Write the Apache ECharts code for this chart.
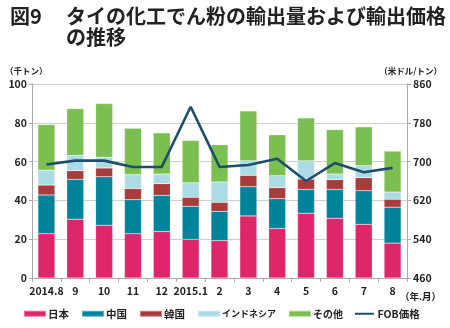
<!DOCTYPE html>
<html>
<head>
<meta charset="utf-8">
<script src="https://cdn.jsdelivr.net/npm/echarts@6/dist/echarts.min.js"></script>
<style>
  html, body { margin: 0; padding: 0; background: #fff; }
  #chart { width: 450px; height: 328px; }
</style>
</head>
<body>
<div id="chart"></div>
<script>
// Months (year.month)
const months = ['2014.8', '9', '10', '11', '12', '2015.1', '2', '3', '4', '5', '6', '7', '8'];

// Export volume by destination (thousand tonnes)
const japan     = [22.8, 30.3, 27.2, 22.8, 24.0, 19.9, 19.3, 32.0, 25.5, 33.4, 30.8, 27.7, 18.0];
const china     = [20.0, 20.6, 25.0, 17.6, 18.6, 17.1, 15.1, 15.1, 15.4, 12.3, 14.9, 17.3, 18.5];
const korea     = [5.1, 4.4, 4.5, 5.7, 6.0, 4.6, 4.6, 5.8, 5.7, 5.3, 5.0, 6.7, 4.1];
const indonesia = [7.7, 7.9, 5.6, 7.2, 5.0, 7.5, 10.5, 7.5, 6.1, 9.4, 2.9, 6.2, 3.7];
const others    = [23.5, 24.1, 27.6, 23.9, 21.2, 21.8, 19.2, 25.7, 21.1, 22.1, 22.9, 20.0, 21.1];

// FOB export price (USD / tonne)
const fobPrice  = [694, 702, 702, 689, 689, 813, 689, 693, 706, 660, 697, 678, 687];

// Axis tick values
const leftTicks  = [0, 20, 40, 60, 80, 100];
const rightTicks = [460, 540, 620, 700, 780, 860];

const FONT = '"Noto Sans CJK JP", "Noto Sans", sans-serif';
const chart = echarts.init(document.getElementById('chart'), null, { renderer: 'canvas' });

function barSeries(name, data, color) {
  return {
    name, type: 'bar', stack: 'vol', data,
    barWidth: 17,
    itemStyle: { color, borderColor: 'rgba(255,255,255,0.35)', borderWidth: 0.5 },
    emphasis: { disabled: true }
  };
}

const titleStyle = { fontSize: 20, fontWeight: 'bold', color: '#222', fontFamily: FONT };
const unitStyle = { fontSize: 8.5, fontWeight: 'bold', color: '#222', fontFamily: FONT };
const legendText = { fontWeight: 'bold', color: '#222', fontFamily: FONT };

// Thin horizontal stroke used as the legend key of the price line
const lineIcon = 'path://M0,0L0.01,0M0,2.3L22,2.3L22,4.7L0,4.7ZM0,7L0.01,7';

chart.setOption({
  animation: false,
  textStyle: { fontFamily: FONT },
  title: [
    { text: '図9', left: 5, top: 1, textStyle: titleStyle },
    { text: 'タイの化工でん粉の輸出量および輸出価格', left: 61, top: 1, textStyle: titleStyle },
    { text: 'の推移', left: 61, top: 22, textStyle: titleStyle },
    { text: '（千トン）', left: 0, top: 62, textStyle: unitStyle },
    { text: '（米ドル/トン）', right: 3, top: 62, textStyle: unitStyle },
    {
      text: '（年.月）', left: 395, top: 287,
      textStyle: { fontSize: 9.5, fontWeight: 'bold', color: '#222', fontFamily: FONT }
    }
  ],
  grid: { left: 32, right: 43, top: 84, bottom: 50, containLabel: false },
  legend: {
    bottom: 4, left: 18,
    itemWidth: 22, itemHeight: 6, itemGap: 12,
    formatter: name => {
      if (name === 'インドネシア') return '{k|' + name + '}';
      if (name === 'その他') return '{s|' + name + '}';
      return name;
    },
    textStyle: Object.assign({
      fontSize: 10.5, padding: [0, 0, 0, -3],
      rich: {
        k: Object.assign({ fontSize: 9 }, legendText),
        s: Object.assign({ fontSize: 10 }, legendText)
      }
    }, legendText),
    data: [
      { name: '日本', icon: 'rect' },
      { name: '中国', icon: 'rect' },
      { name: '韓国', icon: 'rect' },
      { name: 'インドネシア', icon: 'rect' },
      { name: 'その他', icon: 'rect' },
      { name: 'FOB価格', icon: lineIcon }
    ]
  },
  xAxis: {
    type: 'category', data: months,
    axisLine: { lineStyle: { color: '#aaa', width: 1 } },
    axisTick: { show: true, length: 4, lineStyle: { color: '#aaa' } },
    axisLabel: { fontSize: 10.5, fontWeight: 'bold', color: '#222', margin: 8, interval: 0 }
  },
  yAxis: [
    {
      type: 'value', min: 0, max: 100, interval: 20,
      axisLine: { show: true, lineStyle: { color: '#aaa' } },
      axisTick: { show: true, length: 3, lineStyle: { color: '#aaa' } },
      splitLine: { lineStyle: { color: '#cfcfcf', width: 1 } },
      axisLabel: {
        fontSize: 10.5, fontWeight: 'bold', color: '#222', margin: 5,
        formatter: v => leftTicks.includes(v) ? String(v) : ''
      }
    },
    {
      type: 'value', min: 460, max: 860, interval: 80,
      position: 'right',
      axisLine: { show: true, lineStyle: { color: '#aaa' } },
      axisTick: { show: true, length: 4, lineStyle: { color: '#aaa' } },
      splitLine: { show: false },
      axisLabel: {
        fontSize: 10.5, fontWeight: 'bold', color: '#222', margin: 6,
        formatter: v => rightTicks.includes(v) ? String(v) : ''
      }
    }
  ],
  series: [
    barSeries('日本', japan, '#e0266b'),
    barSeries('中国', china, '#00849b'),
    barSeries('韓国', korea, '#a83c3a'),
    barSeries('インドネシア', indonesia, '#acdbe6'),
    barSeries('その他', others, '#7abf4f'),
    {
      name: 'FOB価格', type: 'line', yAxisIndex: 1, data: fobPrice,
      symbol: 'none',
      lineStyle: { color: '#1d4f6b', width: 2.6 },
      itemStyle: { color: '#1d4f6b' },
      emphasis: { disabled: true },
      z: 5
    }
  ]
});
</script>
</body>
</html>
